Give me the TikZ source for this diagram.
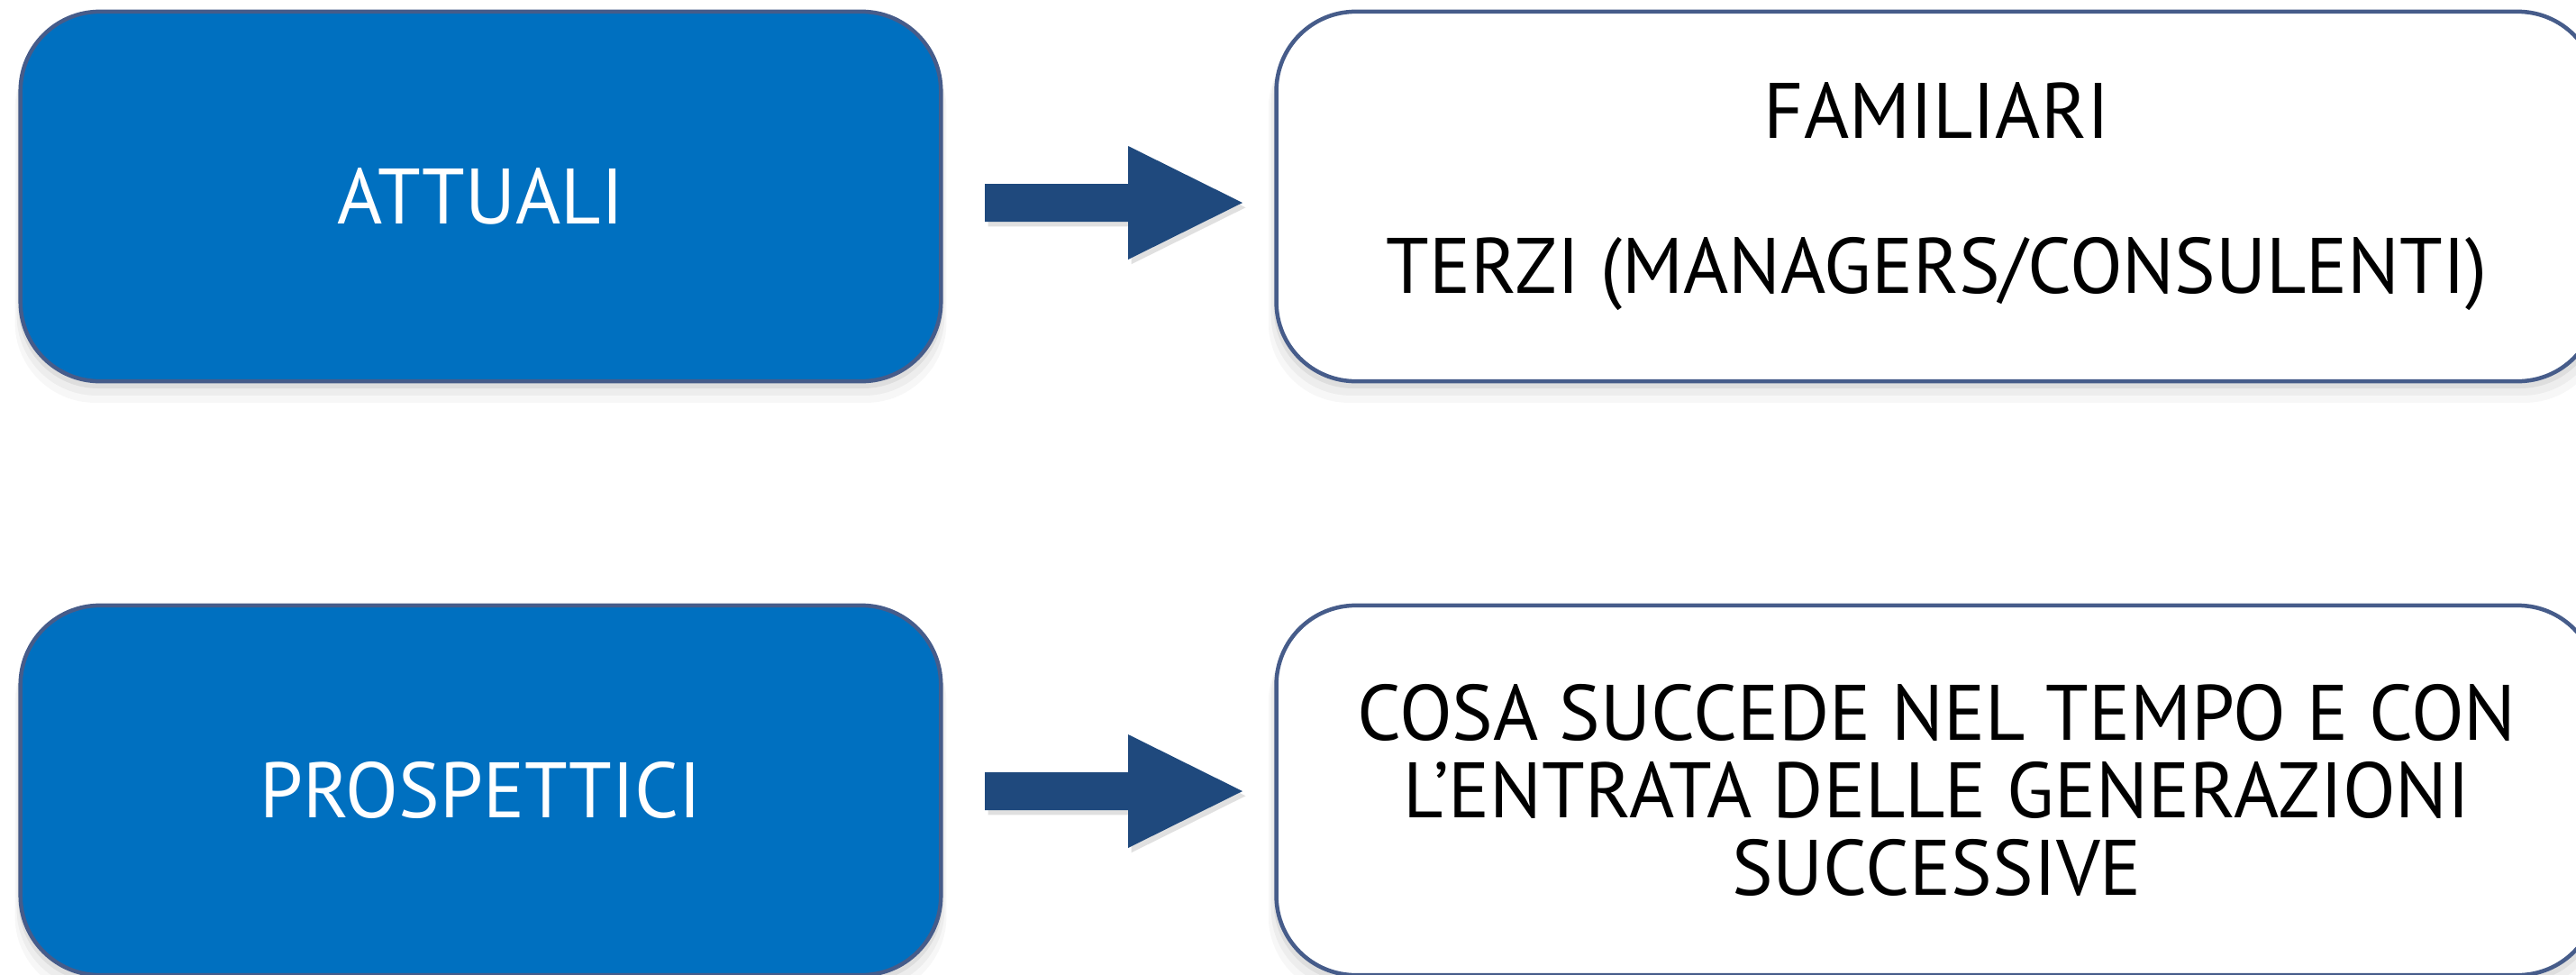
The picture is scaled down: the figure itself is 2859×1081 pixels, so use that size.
\documentclass[tikz,border=0pt]{standalone}
\usepackage{fontspec}
\setmainfont[FakeStretch=0.985]{PT Sans}
\usetikzlibrary{shadows}
\definecolor{boxblue}{HTML}{0070C0}
\definecolor{boxline}{RGB}{70,92,138}
\definecolor{arrowblue}{HTML}{1F497D}
\begin{document}
\begin{tikzpicture}[x=0.01cm,y=-0.01cm,
  softshadow/.style={
    drop shadow={shadow xshift=0pt, shadow yshift=-2pt, shadow scale=1.004, opacity=0.06, fill=black, draw=none},
    drop shadow={shadow xshift=0pt, shadow yshift=-4pt, shadow scale=1.008, opacity=0.04, fill=black, draw=none},
    drop shadow={shadow xshift=0pt, shadow yshift=-6pt, shadow scale=1.012, opacity=0.03, fill=black, draw=none}},
  box/.style={rectangle, rounded corners=0.88cm, minimum height=4.10cm,
    draw=boxline, line width=0.045cm, align=center, inner sep=0pt,
    font=\fontsize{24.8pt}{24.5pt}\selectfont, softshadow},
  leftbox/.style={box, fill=boxblue, text=white, minimum width=10.21cm},
  rightbox/.style={box, fill=white, text=black, minimum width=14.65cm},
  blockarrow/.pic={
    \fill[arrowblue, drop shadow={shadow xshift=1pt, shadow yshift=-1.5pt, opacity=0.12, fill=black}]
      (0,-21) -- (159,-21) -- (159,-63) -- (286,0) -- (159,63) -- (159,21) -- (0,21) -- cycle;}
]
\useasboundingbox (0,0) rectangle (2859,1081);
\fill[white] (0,0) rectangle (2859,1081);

\node[leftbox] (attuali) at (533.5,218) {ATTUALI};
\node[rightbox] (terzi) at (2149.5,218) {FAMILIARI\\[24.5pt]TERZI (MANAGERS/CONSULENTI)};
\node[leftbox] (prosp) at (533.5,877) {PROSPETTICI};
\node[rightbox] (cosa) at (2149.5,877) {COSA SUCCEDE NEL TEMPO E CON\\L’ENTRATA DELLE GENERAZIONI\\SUCCESSIVE};

\coordinate (a1) at (1093,225);
\coordinate (a2) at (1093,878);
\pic at (a1) {blockarrow};
\pic at (a2) {blockarrow};
\end{tikzpicture}
\end{document}
